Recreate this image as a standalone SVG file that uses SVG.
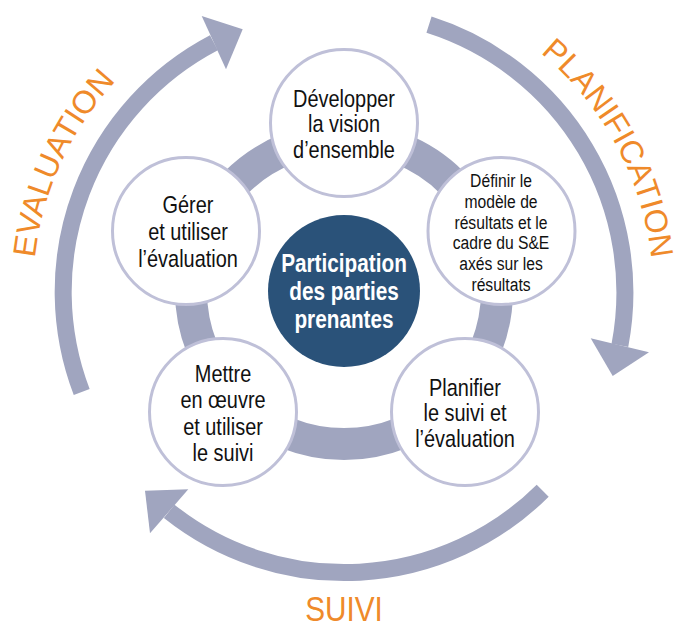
<svg xmlns="http://www.w3.org/2000/svg" width="678" height="628" viewBox="0 0 678 628">
<style>
.band{fill:none;stroke:#a0a5bf}
.head{fill:#a0a5bf}
.node{fill:#ffffff;stroke:#bfc0d8;stroke-width:3}
.t{font-family:'Liberation Sans',Arial,sans-serif;font-size:24px;fill:#111111;text-anchor:middle}
.ts{font-size:18px}
.tc{font-family:'Liberation Sans',Arial,sans-serif;font-size:25px;font-weight:bold;fill:#ffffff;text-anchor:middle}
.phase{font-family:'Liberation Sans',Arial,sans-serif;font-size:32px;fill:#ef8a2a}
</style>
<defs>
<path id="pEval" d="M 35.6 331.9 A 310 310 0 0 1 172.3 33.2"/>
<path id="pPlan" d="M 498 23.5 A 310 310 0 0 1 652.5 310.4"/>
</defs>
<g id="connectors">
<path class="band" stroke-width="17" d="M 429 24.7 A 281 281 0 0 1 619.9 345.3"/>
<polygon class="head" points="590.7,338.3 649,352.3 612.7,376"/>
<path class="band" stroke-width="17" d="M 542.7 490.7 A 281 281 0 0 1 169.2 511.3"/>
<polygon class="head" points="188.3,489.3 150,533.3 145,490.7"/>
<path class="band" stroke-width="17" d="M 81.7 392 A 281 281 0 0 1 213.9 42.7"/>
<polygon class="head" points="201.7,16 226,69.3 242.7,29.3"/>
<circle class="band" stroke-width="32" cx="344" cy="291" r="153"/>
</g>
<g id="labels">
<text class="phase"><textPath href="#pEval" startOffset="50%" text-anchor="middle">EVALUATION</textPath></text>
<text class="phase"><textPath href="#pPlan" startOffset="50%" text-anchor="middle">PLANIFICATION</textPath></text>
<g transform="translate(344 0) scale(0.85 1)"><text class="phase" x="0" y="621" text-anchor="middle" style="font-size:35px">SUIVI</text></g>
</g>
<g id="center">
<circle cx="344" cy="291" r="76" fill="#2a5279"/>
<g transform="translate(344 0) scale(0.83 1)">
<text class="tc" x="0" y="272">Participation</text>
<text class="tc" x="0" y="300">des parties</text>
<text class="tc" x="0" y="328">prenantes</text>
</g>
</g>
<g id="n1">
<circle class="node" cx="344" cy="123" r="73.5"/>
<g transform="translate(344 0) scale(0.83 1)">
<text class="t" x="0" y="107">Développer</text>
<text class="t" x="0" y="132.5">la vision</text>
<text class="t" x="0" y="158">d’ensemble</text>
</g>
</g>
<g id="n2">
<circle class="node" cx="501.5" cy="231" r="73.5"/>
<g transform="translate(501 0) scale(0.87 1)">
<text class="t ts" x="0" y="187">Définir le</text>
<text class="t ts" x="0" y="207.8">modèle de</text>
<text class="t ts" x="0" y="228.6">résultats et le</text>
<text class="t ts" x="0" y="249.4">cadre du S&amp;E</text>
<text class="t ts" x="0" y="270.2">axés sur les</text>
<text class="t ts" x="0" y="291">résultats</text>
</g>
</g>
<g id="n3">
<circle class="node" cx="465" cy="412" r="73.5"/>
<g transform="translate(465 0) scale(0.83 1)">
<text class="t" x="0" y="396">Planifier</text>
<text class="t" x="0" y="421.5">le suivi et</text>
<text class="t" x="0" y="447">l’évaluation</text>
</g>
</g>
<g id="n4">
<circle class="node" cx="223" cy="412" r="73.5"/>
<g transform="translate(223 0) scale(0.83 1)">
<text class="t" x="0" y="382">Mettre</text>
<text class="t" x="0" y="408">en œuvre</text>
<text class="t" x="0" y="435">et utiliser</text>
<text class="t" x="0" y="461">le suivi</text>
</g>
</g>
<g id="n5">
<circle class="node" cx="186" cy="231" r="73.5"/>
<g transform="translate(188 0) scale(0.83 1)">
<text class="t" x="0" y="213">Gérer</text>
<text class="t" x="0" y="240">et utiliser</text>
<text class="t" x="0" y="267">l’évaluation</text>
</g>
</g>
</svg>
